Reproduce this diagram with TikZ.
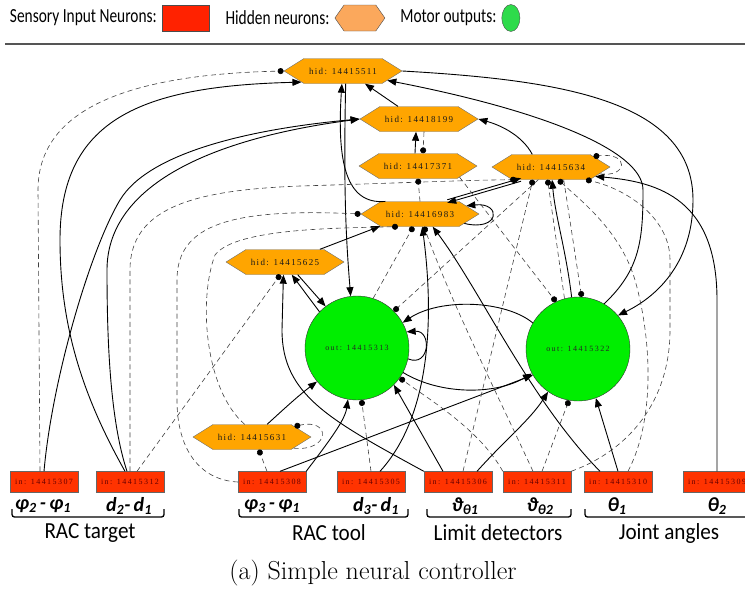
\documentclass[tikz,border=0pt]{standalone}
\usepackage{fontspec}
\usepackage{tikz}
\usetikzlibrary{shapes.symbols,shapes.geometric,arrows.meta,positioning}
\newfontfamily\legfont{Carlito}[FakeStretch=0.77]
\newfontfamily\grpfont{Carlito}[FakeStretch=0.92]
\newfontfamily\varfont{Carlito}
\newfontfamily\hidfont{Liberation Serif}[LetterSpace=15]
\newfontfamily\infont{Liberation Serif}[LetterSpace=18]
\definecolor{inred}{HTML}{FF3300}
\definecolor{legred}{HTML}{FF2200}
\definecolor{hidorange}{HTML}{FFA500}
\definecolor{legorange}{HTML}{FBA85C}
\definecolor{outgreen}{HTML}{00EE00}
\definecolor{leggreen}{HTML}{2EDB4B}
\definecolor{rulegray}{HTML}{555555}

\tikzset{
  inneuron/.style={draw=black!60, fill=inred, minimum width=68pt, minimum height=21pt,
    inner sep=0pt, text=black!60!red, font=\infont\fontsize{8}{9}\selectfont},
  hidneuron/.style={signal, signal to=east and west, signal pointer angle=64,
    draw=black!55, fill=hidorange, minimum width=118pt, minimum height=25pt,
    inner sep=1pt, text=black!90, font=\hidfont\fontsize{9}{10}\selectfont},
  outneuron/.style={circle, draw=black!80, fill=outgreen, minimum size=104pt,
    inner sep=0pt, text=black!85, font=\infont\fontsize{8}{9}\selectfont},
  exc/.style={draw=black, line width=0.9pt, -{Triangle[length=9pt,width=7pt]}},
  inh/.style={draw=black!75, line width=0.6pt, dash pattern=on 5pt off 3.5pt,
    -{Circle[length=6pt,color=black]}},
  legtext/.style={inner sep=0pt, font=\legfont\fontsize{20}{22}\selectfont},
  varlab/.style={inner sep=0pt, font=\varfont\bfseries\itshape\fontsize{20}{22}\selectfont},
  grouplab/.style={inner sep=0pt, font=\grpfont\fontsize{23}{26}\selectfont},
  bracket/.style={line width=1.3pt, rounded corners=2.5pt}
}

\begin{document}
\begin{tikzpicture}[x=1pt, y=-1pt]
  \path[use as bounding box] (0,0) rectangle (745,590);
  \clip (0,0) rectangle (745,590);

  % legend
  \node[legtext, anchor=east] (leg-in) at (157,18) {Sensory Input Neurons:};
  \node[draw=black!70, fill=legred, minimum width=47pt, minimum height=26pt,
        right=5pt of leg-in] (leg-rect) {};
  \node[legtext, right=16pt of leg-rect] (leg-hid) {Hidden neurons:};
  \node[signal, signal to=east and west, signal pointer angle=110, draw=black!70,
        fill=legorange, minimum width=50pt, minimum height=26pt,
        right=5pt of leg-hid] (leg-hex) {};
  \node[legtext, right=15pt of leg-hex] (leg-out) {Motor outputs:};
  \node[ellipse, draw=black!70, fill=leggreen, minimum width=18pt, minimum height=27pt,
        inner sep=0pt, right=5pt of leg-out] (leg-circ) {};
  \draw[line width=2.5pt, rulegray] (5,44) -- (745,44);

  % sensory inputs
  \node[inneuron] (in307) at (44,482) {in: 14415307};
  \node[inneuron] (in312) at (130,482) {in: 14415312};
  \node[inneuron] (in308) at (272,482) {in: 14415308};
  \node[inneuron] (in305) at (371,482) {in: 14415305};
  \node[inneuron] (in306) at (458,482) {in: 14415306};
  \node[inneuron] (in311) at (537,482) {in: 14415311};
  \node[inneuron] (in310) at (618,482) {in: 14415310};
  \node[inneuron] (in309) at (717,482) {in: 14415309};

  % hidden neurons
  \node[hidneuron] (h511) at (343,71) {hid: 14415511};
  \node[hidneuron] (h199) at (419,119) {hid: 14418199};
  \node[hidneuron] (h371) at (418,166) {hid: 14417371};
  \node[hidneuron] (h634) at (551,167) {hid: 14415634};
  \node[hidneuron] (h983) at (420,214) {hid: 14416983};
  \node[hidneuron] (h625) at (285,262) {hid: 14415625};
  \node[hidneuron] (h631) at (252,437) {hid: 14415631};

  % motor outputs
  \node[outneuron] (o313) at (357,348) {out: 14415313};
  \node[outneuron] (o322) at (578,349) {out: 14415322};

  % excitatory links
  \draw[exc] ([xshift=-5pt]in312.north) .. controls (85,400) and (60,330) .. (60,240)
    .. controls (60,120) and (140,86) .. (h511.195);
  \draw[exc] (in307.north) .. controls (52,380) and (90,250) .. (120,200)
    .. controls (150,150) and (260,128) .. (h199.west);
  \draw[exc] ([xshift=-3pt]in312.north) .. controls (110,420) and (107,340) .. (107,270)
    .. controls (107,190) and (200,140) .. (h199.west);
  \draw[exc] (h199.149) -- (h511.330);
  \draw[exc] ([xshift=-3pt]h371.north) -- ([xshift=-3pt]h199.south);
  \draw[exc] (h983.160) .. controls (345,205) and (337,160) .. (h511.265);
  \draw[exc] (h511.282) .. controls (343,200) and (347,250) .. (o313.97);
  \draw[exc] (h625.20) -- (h983.197);
  \draw[exc] (h625.-45) -- (o313.127);
  \draw[exc] (o313.136) -- (h625.-62);
  \draw[exc] (in306.north west) .. controls (330,420) and (282,395) .. (282,330) -- (h625.-97);
  \draw[exc] (o313.-12) .. controls (430,368) and (432,330) .. (o313.18);
  \draw[exc] (o322.150) .. controls (505,300) and (440,298) .. (o313.29);
  \draw[exc] (o313.-28) .. controls (440,395) and (495,395) .. (o322.208);
  \draw[exc] ([xshift=8pt]in308.north) -- (o322.210);
  \draw[exc] (in308.north east) .. controls (330,440) and (345,420) .. (o313.-100);
  \draw[exc] (h631.40) .. controls (285,408) and (298,396) .. (o313.220);
  \draw[exc] ([xshift=-15pt]in306.north) -- (o313.-45);
  \draw[exc] (o322.97) .. controls (566,250) and (555,215) .. (h634.-85);
  \draw[exc] (h511.east) .. controls (560,80) and (693,100) .. (693,200)
    .. controls (693,260) and (660,295) .. (o322.40);
  \draw[exc] (o322.60) .. controls (640,270) and (643,240) .. (643,190)
    .. controls (643,150) and (540,110) .. (h511.-12);
  \draw[exc] (h634.146) .. controls (522,135) and (500,125) .. (h199.east);
  \draw[exc] (in309.north) -- (717,300) .. controls (717,200) and (660,182) .. (h634.-12);
  \draw[exc] ([yshift=1.5pt]h983.25) -- ([yshift=1.5pt]h634.203);
  \draw[exc] ([yshift=-1.5pt]h634.203) -- ([yshift=-1.5pt]h983.25);
  \draw[exc] (h983.-12) .. controls (500,232) and (502,202) .. (h983.10);
  \draw[exc] ([xshift=9pt]in305.north) .. controls (436,410) and (432,300) .. (h983.-80);
  \draw[exc] ([xshift=-18pt]in310.north) .. controls (530,400) and (480,290) .. (h983.-45);
  \draw[exc] ([xshift=19pt]in306.north) .. controls (505,440) and (530,420) .. (o322.-125);
  \draw[exc] (in310.north) -- (o322.-70);

  % inhibitory links
  \draw[inh] ([xshift=-4pt]in307.north) -- (38,190) .. controls (38,100) and (150,74) .. (h511.west);
  \draw[inh] (in312.north) -- (130,270) .. controls (130,205) and (200,190) .. (300,186)
    .. controls (400,183) and (470,180) .. (h634.200);
  \draw[inh] (in308.west) .. controls (200,480) and (177,450) .. (177,400) -- (177,280)
    .. controls (177,225) and (230,208) .. (h983.west);
  \draw[inh] (h631.120) .. controls (205,390) and (198,300) .. (215,255)
    .. controls (235,228) and (340,228) .. (h983.-150);
  \draw[inh] ([xshift=7pt]in312.north) -- (h625.-110);
  \draw[inh] (h631.-15) .. controls (330,452) and (332,418) .. (h631.14);
  \draw[inh] ([xshift=-5pt]in308.north) -- (h631.-62);
  \draw[inh] ([xshift=5pt]h199.south) -- ([xshift=5pt]h371.north);
  \draw[inh] (h983.north) -- (h371.south);
  \draw[inh] (h634.-8) .. controls (628,178) and (630,152) .. (h634.14);
  \draw[inh] (h634.225) -- (o313.45);
  \draw[inh] (h371.-15) -- (o322.115);
  \draw[inh] (o322.105) -- (h634.-105);
  \draw[inh] (h634.-45) -- (o322.86);
  \draw[inh] (in311.north east) .. controls (630,450) and (670,400) .. (670,330) -- (670,260)
    .. controls (670,220) and (630,190) .. (h634.-20);
  \draw[inh] ([xshift=10pt]in310.north) .. controls (655,420) and (652,340) .. (635,280)
    .. controls (620,230) and (580,200) .. (h634.-60);
  \draw[inh] ([xshift=5pt]in311.north) -- (o322.-100);
  \draw[inh] (in311.north west) .. controls (480,430) and (430,400) .. (o313.-35);
  \draw[inh] (in305.north) -- (o313.-85);
  \draw[inh] ([xshift=-4pt]in311.north) .. controls (500,400) and (450,300) .. (h983.-72);
  \draw[inh] ([xshift=5pt]in306.north) -- (h634.215);
  \draw[inh] (o313.72) -- (h983.-118);

  % input labels
  \node[varlab] (v307) at (43,506) {φ\textsubscript{2}\,-\,φ\textsubscript{1}};
  \node[varlab] (v312) at (129,506) {d\textsubscript{2}-\,d\textsubscript{1}};
  \node[varlab] (v308) at (272,506) {φ\textsubscript{3}\,-\,φ\textsubscript{1}};
  \node[varlab] (v305) at (376,506) {d\textsubscript{3}-\,d\textsubscript{1}};
  \node[varlab] (v306) at (465,506) {ϑ\textsubscript{θ1}};
  \node[varlab] (v311) at (540,506) {ϑ\textsubscript{θ2}};
  \node[varlab] (v310) at (617,506) {θ\textsubscript{1}};
  \node[varlab] (v309) at (717,506) {θ\textsubscript{2}};

  % groups
  \draw[bracket] (12,509) -- (12,517) -- (164,517) -- (164,509);
  \draw[bracket] (239,509) -- (239,517) -- (408,517) -- (408,509);
  \draw[bracket] (427,509) -- (427,517) -- (571,517) -- (571,509);
  \draw[bracket] (585,509) -- (585,517) -- (760,517);
  \node[grouplab] (g-target) at (90,533) {RAC target};
  \node[grouplab] (g-tool) at (329,533) {RAC tool};
  \node[grouplab] (g-limit) at (498,533) {Limit detectors};
  \node[grouplab] (g-joint) at (669,533) {Joint angles};

  \node[font=\fontsize{26}{30}\selectfont, inner sep=0pt] (caption) at (373,573)
    {(a) Simple neural controller};
\end{tikzpicture}
\end{document}
